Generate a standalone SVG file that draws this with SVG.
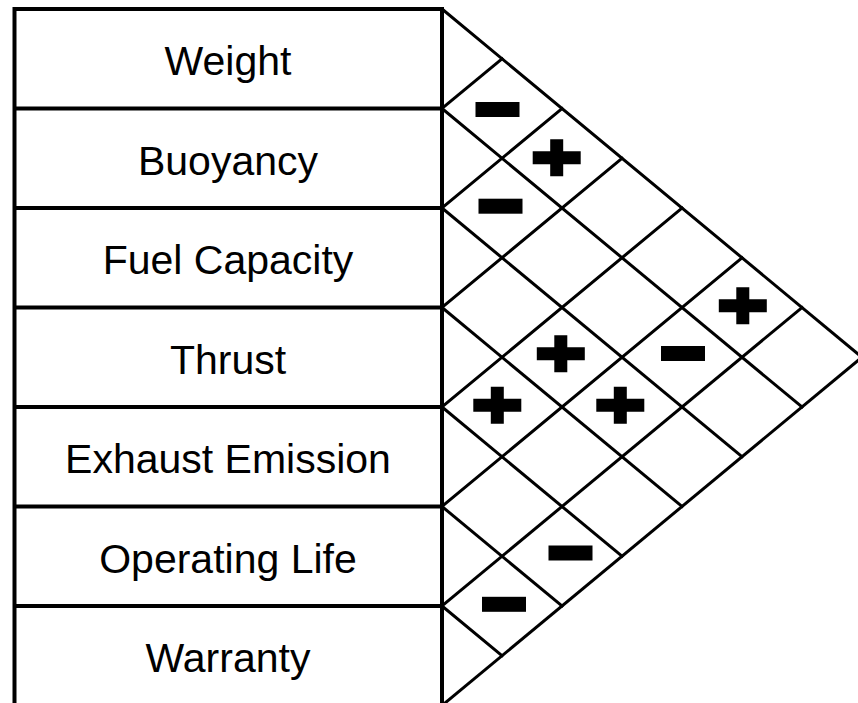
<svg xmlns="http://www.w3.org/2000/svg" xmlns:xlink="http://www.w3.org/1999/xlink" width="858" height="703" viewBox="0 0 858 703">
  <style>
    .frame { stroke: #000; stroke-width: 4; fill: none; }
    .grid { stroke: #000; stroke-width: 3; fill: none; stroke-linecap: square; }
    .label { font-family: "Liberation Sans", Arial, sans-serif; font-size: 41px; fill: #000; text-anchor: middle; }
    .mark { fill: #000; }
  </style>
  <defs>
    <path id="plus" class="mark" d="M-6.5,-18.5 h13 v12 h17.5 v13 h-17.5 v12 h-13 v-12 h-17.5 v-13 h17.5 z"/>
    <rect id="minus" class="mark" x="-22" y="-7.5" width="44" height="15"/>
  </defs>
  <rect width="858" height="703" fill="#fff"/>

  <!-- requirement rows -->
  <g id="row-weight">
    <line class="frame" x1="14" y1="9" x2="442" y2="9"/>
    <text class="label" x="228" y="75">Weight</text>
  </g>
  <g id="row-buoyancy">
    <line class="frame" x1="14" y1="108.5" x2="442" y2="108.5"/>
    <text class="label" x="228" y="174.5">Buoyancy</text>
  </g>
  <g id="row-fuel-capacity">
    <line class="frame" x1="14" y1="208" x2="442" y2="208"/>
    <text class="label" x="228" y="274">Fuel Capacity</text>
  </g>
  <g id="row-thrust">
    <line class="frame" x1="14" y1="307.5" x2="442" y2="307.5"/>
    <text class="label" x="228" y="373.5">Thrust</text>
  </g>
  <g id="row-exhaust-emission">
    <line class="frame" x1="14" y1="407" x2="442" y2="407"/>
    <text class="label" x="228" y="473">Exhaust Emission</text>
  </g>
  <g id="row-operating-life">
    <line class="frame" x1="14" y1="506.5" x2="442" y2="506.5"/>
    <text class="label" x="228" y="572.5">Operating Life</text>
  </g>
  <g id="row-warranty">
    <line class="frame" x1="14" y1="606" x2="442" y2="606"/>
    <text class="label" x="228" y="672">Warranty</text>
  </g>

  <!-- table sides -->
  <g id="table-frame">
    <line class="frame" x1="14.5" y1="7" x2="14.5" y2="703"/>
    <line class="frame" x1="442" y1="7" x2="442" y2="703"/>
  </g>

  <!-- correlation roof lattice -->
  <g id="connectors">
    <line class="grid" x1="442" y1="9" x2="862" y2="357.25"/>
    <line class="grid" x1="442" y1="108.5" x2="802" y2="407"/>
    <line class="grid" x1="442" y1="208" x2="742" y2="456.75"/>
    <line class="grid" x1="442" y1="307.5" x2="682" y2="506.5"/>
    <line class="grid" x1="442" y1="407" x2="622" y2="556.25"/>
    <line class="grid" x1="442" y1="506.5" x2="562" y2="606"/>
    <line class="grid" x1="442" y1="606" x2="502" y2="655.75"/>

    <line class="grid" x1="442" y1="108.5" x2="502" y2="58.75"/>
    <line class="grid" x1="442" y1="208" x2="562" y2="108.5"/>
    <line class="grid" x1="442" y1="307.5" x2="622" y2="158.25"/>
    <line class="grid" x1="442" y1="407" x2="682" y2="208"/>
    <line class="grid" x1="442" y1="506.5" x2="742" y2="257.75"/>
    <line class="grid" x1="442" y1="606" x2="802" y2="307.5"/>
    <line class="grid" x1="442" y1="705.5" x2="862" y2="357.25"/>
  </g>

  <!-- correlation marks -->
  <g id="marks">
    <use xlink:href="#minus" x="497.5" y="109.5"/>
    <use xlink:href="#plus" x="556.7" y="157.7"/>
    <use xlink:href="#minus" x="500.5" y="206.2"/>
    <use xlink:href="#plus" x="742.8" y="305.7"/>
    <use xlink:href="#minus" x="683" y="353.5"/>
    <use xlink:href="#plus" x="560.8" y="353.8"/>
    <use xlink:href="#plus" x="497.3" y="405.3"/>
    <use xlink:href="#plus" x="620.3" y="405.3"/>
    <use xlink:href="#minus" x="570.5" y="553"/>
    <use xlink:href="#minus" x="504" y="604.3"/>
  </g>
</svg>
